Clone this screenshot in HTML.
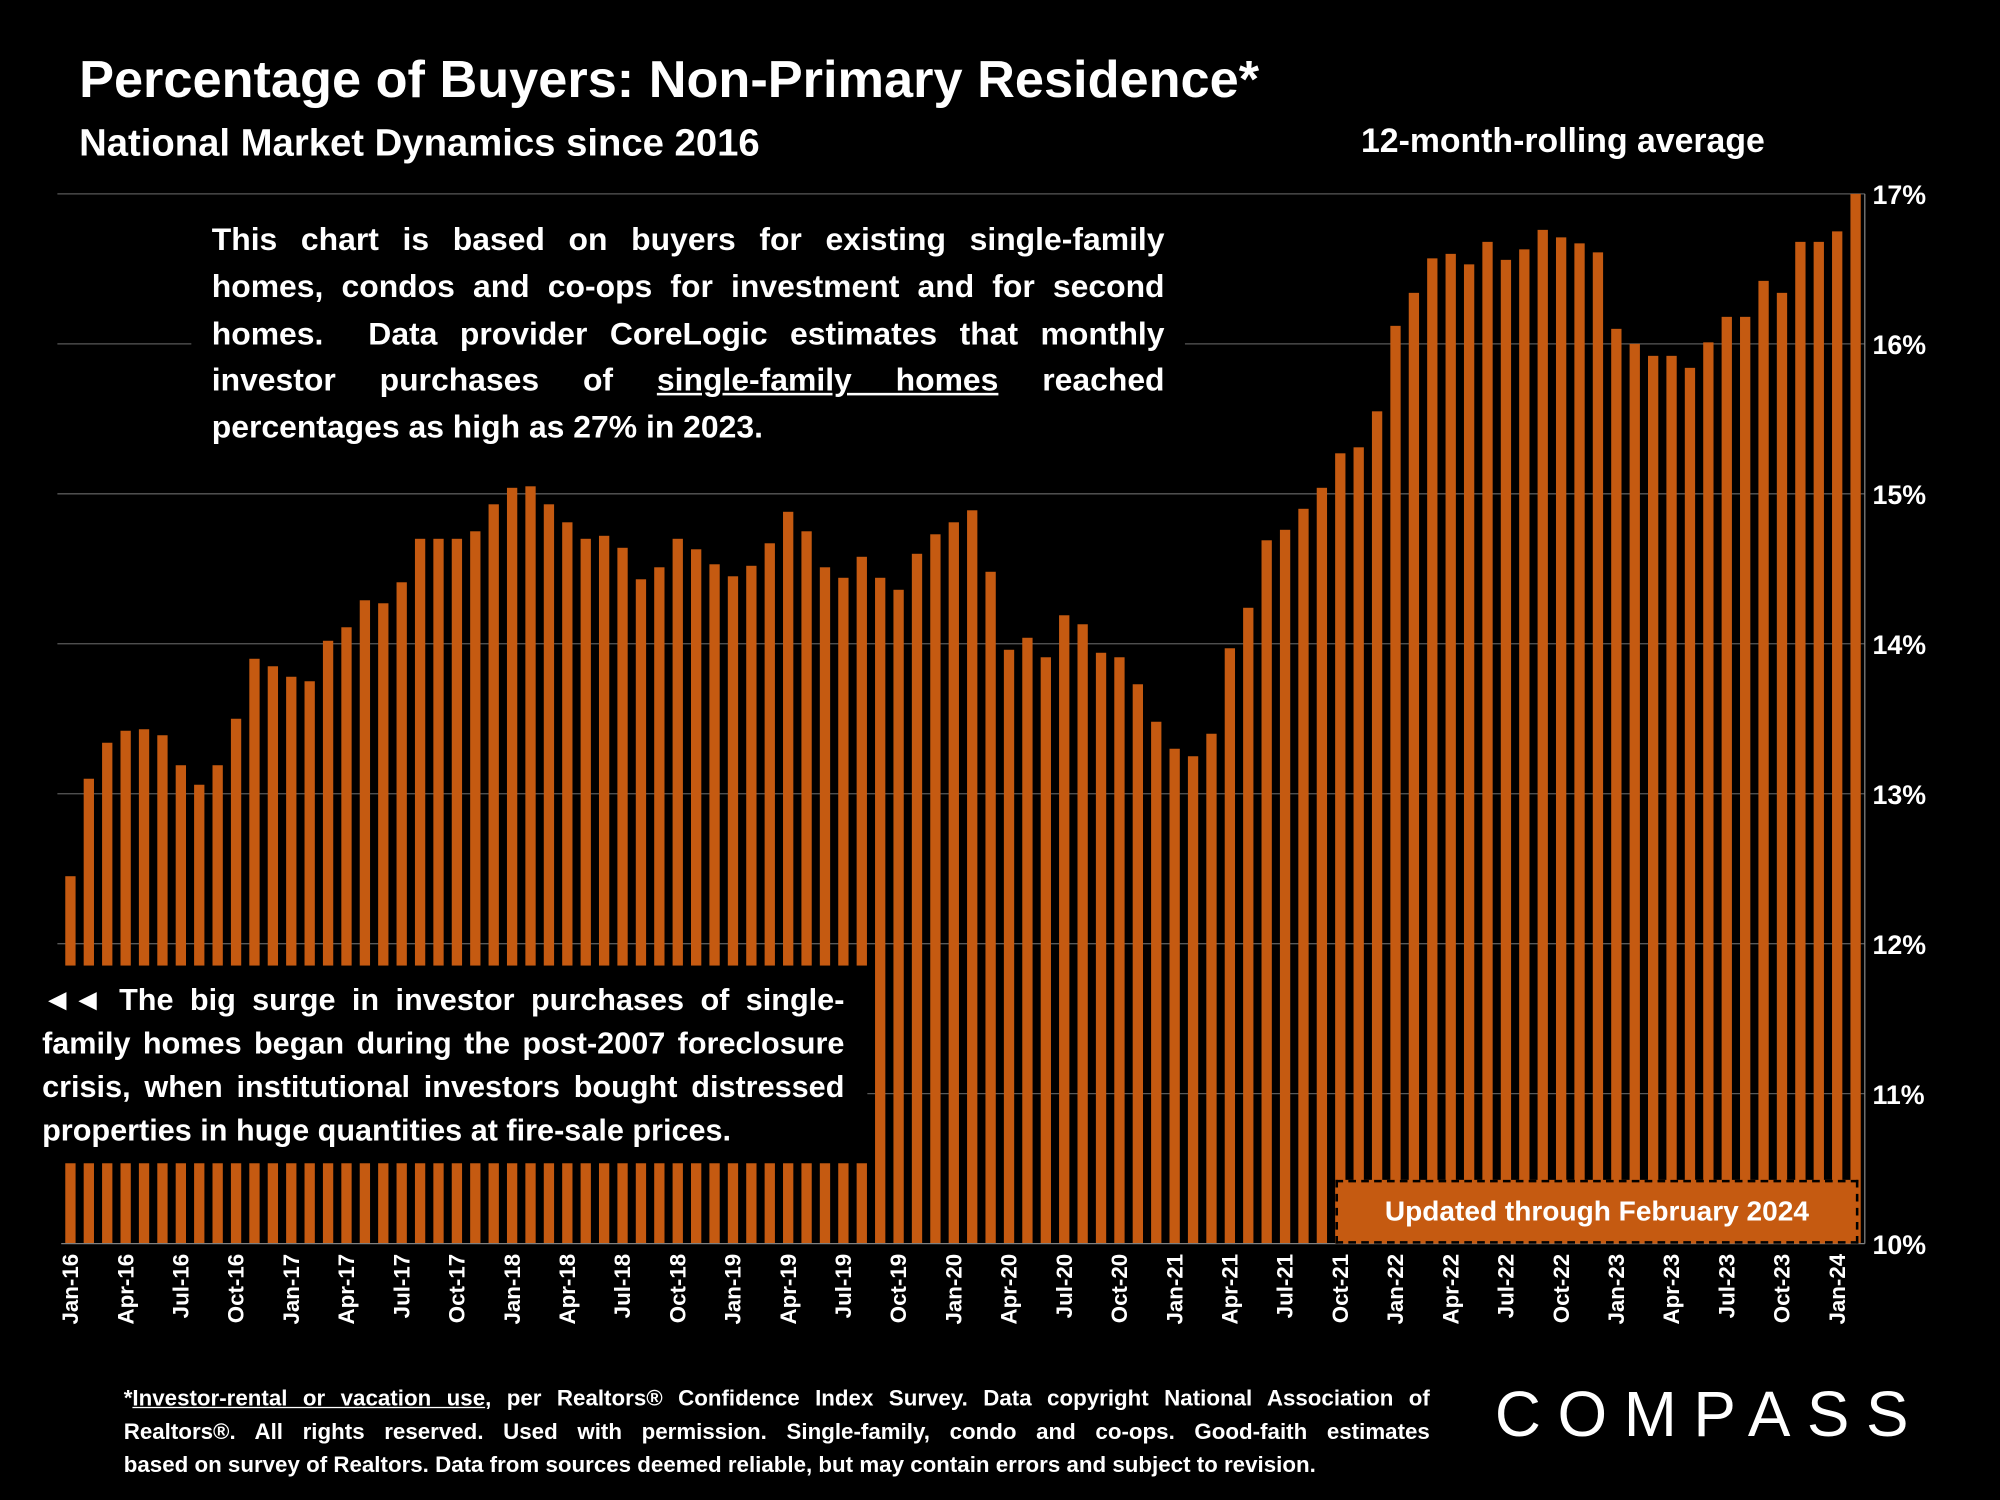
<!DOCTYPE html>
<html><head><meta charset="utf-8"><style>
html,body{margin:0;padding:0;background:#000;}
#wrap{width:2000px;height:1500px;overflow:hidden;position:relative;background:#000;}
#stage{width:1568px;height:1176px;position:absolute;left:0;top:0;transform:scale(1.27551);transform-origin:0 0;font-family:"Liberation Sans",sans-serif;color:#fff;font-weight:bold;}
.abs{position:absolute;}
.ln{text-align:justify;text-align-last:justify;white-space:nowrap;}
.ln.last{text-align-last:left;}
</style></head><body>
<div id="wrap"><div id="stage">
<svg id="chart" class="abs" style="left:0;top:0" width="1568" height="1176"></svg>
<div class="abs" style="left:62px;top:39px;font-size:41px;">Percentage of Buyers: Non-Primary Residence*</div>
<div class="abs" style="left:62px;top:96px;font-size:30px;">National Market Dynamics since 2016</div>
<div class="abs" style="left:1067px;top:95px;font-size:26.5px;">12-month-rolling average</div>
<div class="abs" style="left:150px;top:168px;width:779px;height:187px;padding-left:16px;padding-right:16px;box-sizing:border-box;background:#000;font-size:25px;line-height:36.8px;padding-top:2px">
<div class="ln">This chart is based on buyers for existing single-family</div>
<div class="ln">homes, condos and co-ops for investment and for second</div>
<div class="ln">homes.&nbsp; Data provider CoreLogic estimates that monthly</div>
<div class="ln">investor purchases of <u>single-family homes</u> reached</div>
<div class="ln last">percentages as high as 27% in 2023.</div>
</div>
<div class="abs" style="left:18px;top:757px;width:662px;height:155px;padding:11px 18px 0 15px;box-sizing:border-box;background:#000;font-size:24px;line-height:34px;">
<div class="ln">◄◄ The big surge in investor purchases of single-</div>
<div class="ln">family homes began during the post-2007 foreclosure</div>
<div class="ln">crisis, when institutional investors bought distressed</div>
<div class="ln last">properties in huge quantities at fire-sale prices.</div>
</div>
<div class="abs" style="left:1047px;top:925px;width:410px;height:50px;background:#c55a11;border:2px dashed #000;box-sizing:border-box;font-size:22px;line-height:46px;text-align:center;">Updated through February 2024</div>
<div class="abs" style="left:97px;top:1083px;width:1024px;font-size:17.5px;line-height:26px;">
<div class="ln">*<u>Investor-rental or vacation use</u>, per Realtors® Confidence Index Survey. Data copyright National Association of</div>
<div class="ln">Realtors®. All rights reserved. Used with permission. Single-family, condo and co-ops. Good-faith estimates</div>
<div class="ln last">based on survey of Realtors. Data from sources deemed reliable, but may contain errors and subject to revision.</div>
</div>
<div class="abs" style="left:1172px;top:1080px;font-size:50px;font-weight:normal;letter-spacing:13px;">COMPASS</div>
</div></div>
<script>
const months=["Jan","Feb","Mar","Apr","May","Jun","Jul","Aug","Sep","Oct","Nov","Dec"];
const values=[12.45,13.1,13.34,13.42,13.43,13.39,13.19,13.06,13.19,13.5,13.9,13.85,
13.78,13.75,14.02,14.11,14.29,14.27,14.41,14.7,14.7,14.7,14.75,14.93,
15.04,15.05,14.93,14.81,14.7,14.72,14.64,14.43,14.51,14.7,14.63,14.53,
14.45,14.52,14.67,14.88,14.75,14.51,14.44,14.58,14.44,14.36,14.6,14.73,
14.81,14.89,14.48,13.96,14.04,13.91,14.19,14.13,13.94,13.91,13.73,13.48,
13.3,13.25,13.4,13.97,14.24,14.69,14.76,14.9,15.04,15.27,15.31,15.55,
16.12,16.34,16.57,16.6,16.53,16.68,16.56,16.63,16.76,16.71,16.67,16.61,
16.1,16.0,15.92,15.92,15.84,16.01,16.18,16.18,16.42,16.34,16.68,16.68,
16.75,17.0];
const yTicks=[10,11,12,13,14,15,16,17];
const NS="http://www.w3.org/2000/svg";
const svg=document.getElementById('chart');
const X0=48,X1=1462,YT=152,YB=975,VMIN=10,VMAX=17;
const step=(X1-X0)/values.length;
const y=v=>YB-(v-VMIN)/(VMAX-VMIN)*(YB-YT);
const x=i=>X0+step*(i+0.5);
function mk(t,a){const e=document.createElementNS(NS,t);for(const k in a)e.setAttribute(k,a[k]);svg.appendChild(e);return e;}
yTicks.forEach(t=>{
  if(t>VMIN){const g=mk('line',{x1:45,x2:X1,y1:y(t),y2:y(t),stroke:'#595959','stroke-width':1});
  
  }
  const tx=mk('text',{x:1468,y:y(t)+8,fill:'#fff','font-size':21,'font-weight':'bold','font-family':'Liberation Sans, sans-serif'});
  tx.textContent=t+'%';
  
  
});
values.forEach((v,i)=>{
  const w=step*0.56;
  const r=mk('rect',{x:x(i)-w/2,y:y(v),width:w,height:YB-y(v),fill:'#c55a11'});
  
  
  if(i%3===0){
    const yr=String(16+Math.floor(i/12));
    const lab=mk('text',{x:0,y:0,fill:'#fff','font-size':17.5,'font-weight':'bold','font-family':'Liberation Sans, sans-serif','text-anchor':'end',transform:`translate(${x(i)+6},${YB+8}) rotate(-90)`});
    lab.textContent=months[i%12]+'-'+yr;
    
    
  }
});
const ax=mk('line',{x1:X0,x2:X1,y1:YB,y2:YB,stroke:'#808080','stroke-width':1});


const ay=mk('line',{x1:X1,x2:X1,y1:YT,y2:YB,stroke:'#808080','stroke-width':1});


</script>
</body></html>
